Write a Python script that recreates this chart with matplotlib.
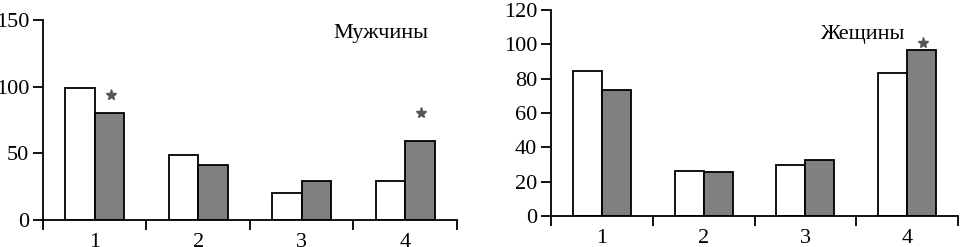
import numpy as np
import matplotlib.pyplot as plt

plt.rcParams['font.family'] = ['Liberation Serif', 'DejaVu Serif']

groups = [1, 2, 3, 4]

men_white = [99, 49, 20, 29]
men_gray = [80, 41, 29, 59.5]
men_star_x = [1, 4]
men_star_y = [94, 80]

women_white = [84.5, 26.5, 29.7, 83.5]
women_gray = [73.3, 25.6, 32.6, 96.7]
women_star_x = [4]
women_star_y = [101]

WIDTH = 0.285


def panel(ax, white, gray, star_x, star_y, ymax, ystep, title, title_xy):
    x = np.array(groups)
    ax.bar(x - WIDTH / 2, white, width=WIDTH, color='white', edgecolor='black', linewidth=1.3)
    ax.bar(x + WIDTH / 2, gray, width=WIDTH, color='#808080', edgecolor='black', linewidth=1.3)
    ax.plot(np.array(star_x) + WIDTH / 2 + 0.01, star_y, linestyle='none', marker='*',
            markersize=8, color='#555555')
    ax.set_xlim(0.5, 4.5)
    ax.set_ylim(0, ymax)
    ax.set_yticks(np.arange(0, ymax + 1, ystep))
    ax.set_xticks(np.arange(0.5, 4.6, 1))
    ax.set_xticklabels([])
    ax.set_xticks(x, minor=True)
    ax.set_xticklabels([str(g) for g in groups], minor=True)
    ax.tick_params(axis='x', which='minor', length=0, pad=9, labelsize=16)
    ax.tick_params(axis='x', which='major', length=7, width=1.3, direction='out')
    ax.tick_params(axis='y', length=7, width=1.3, direction='out', labelsize=16, pad=3)
    for s in ['top', 'right']:
        ax.spines[s].set_visible(False)
    for s in ['left', 'bottom']:
        ax.spines[s].set_linewidth(1.3)
    ax.text(title_xy[0], title_xy[1], title, fontsize=16, ha='center', va='center')


fig = plt.figure(figsize=(9.6, 2.47), dpi=100)
ax1 = fig.add_axes([0.0448, 0.1093, 0.4312, 0.8097])
ax2 = fig.add_axes([0.574, 0.1255, 0.424, 0.834])

panel(ax1, men_white, men_gray, men_star_x, men_star_y, 150, 50, 'Мужчины', (3.76, 140))
panel(ax2, women_white, women_gray, women_star_x, women_star_y, 120, 20, 'Жещины', (3.56, 106))

plt.savefig('out.png', dpi=100)
